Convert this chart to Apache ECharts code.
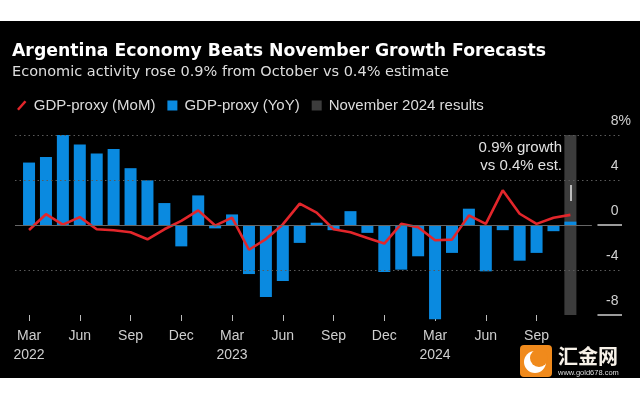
<!DOCTYPE html>
<html>
<head>
<meta charset="utf-8">
<script src="https://cdn.jsdelivr.net/npm/echarts@6/dist/echarts.min.js"></script>
<style>
html,body{margin:0;padding:0;background:#fff;}
#chart{width:640px;height:400px;background:linear-gradient(to bottom,#fff 0,#fff 21px,#000 21px,#000 378px,#fff 378px,#fff 400px);}
</style>
</head>
<body>
<div id="chart"></div>
<script>
// Months from Mar 2022 (index 0) to Nov 2024 (index 32)
const months = ['Mar 2022','Apr 2022','May 2022','Jun 2022','Jul 2022','Aug 2022','Sep 2022','Oct 2022','Nov 2022','Dec 2022',
  'Jan 2023','Feb 2023','Mar 2023','Apr 2023','May 2023','Jun 2023','Jul 2023','Aug 2023','Sep 2023','Oct 2023','Nov 2023','Dec 2023',
  'Jan 2024','Feb 2024','Mar 2024','Apr 2024','May 2024','Jun 2024','Jul 2024','Aug 2024','Sep 2024','Oct 2024','Nov 2024'];
const yoyValues = [5.55, 6.05, 8.0, 7.15, 6.35, 6.75, 5.05, 3.97, 1.95, -1.9,
  2.63, -0.3, 0.94, -4.36, -6.4, -4.98, -1.59, 0.2, -0.46, 1.23, -0.7, -4.18,
  -3.97, -2.78, -8.38, -2.48, 1.45, -4.12, -0.46, -3.17, -2.48, -0.55, 0.3];
const momValues = [-0.45, 0.96, 0.03, 0.7, -0.38, -0.47, -0.65, -1.27, -0.38, 0.36,
  1.3, -0.05, 0.65, -2.2, -1.25, 0.05, 1.9, 1.1, -0.38, -0.65, -1.15, -1.65,
  0.1, -0.2, -1.35, -1.3, 0.85, 0.1, 3.08, 1.0, 0.1, 0.65, 0.9];
const highlightMonth = 'Nov 2024';
const highlightRange = [8, -8];
const xTickIndices = [0, 3, 6, 9, 12, 15, 18, 21, 24, 27, 30];
const xTickLabels = ['Mar\n2022','Jun','Sep','Dec','Mar\n2023','Jun','Sep','Dec','Mar\n2024','Jun','Sep'];
const yTicks = [-8, -4, 0, 4, 8];
const gridValues = [8, 4, -4];
const legendNames = ['GDP-proxy (MoM)', 'GDP-proxy (YoY)', 'November 2024 results'];
const titleText = 'Argentina Economy Beats November Growth Forecasts';
const subtitleText = 'Economic activity rose 0.9% from October vs 0.4% estimate';
const annotationText = '0.9% growth\nvs 0.4% est.';

const hiIdx = months.indexOf(highlightMonth);
const FONT = '"Liberation Sans", Arial, sans-serif';
const HFONT = '"DejaVu Sans", sans-serif';
const xMin = -0.83, xMax = 35.05;

const chart = echarts.init(document.getElementById('chart'), null, {renderer: 'canvas'});
chart.setOption({
  backgroundColor: 'transparent',
  animation: false,
  textStyle: {fontFamily: FONT},
  grid: {left: 15, right: 18, top: 135, bottom: 85, containLabel: false},
  legend: {
    left: 12, top: 93, itemWidth: 10, itemHeight: 10, itemGap: 12,
    textStyle: {color: '#dcdcdc', fontSize: 15, fontFamily: FONT, padding: [0, 0, 0, 2]},
    data: [
      {name: legendNames[0], icon: 'path://M0,9 L8,0 L10,1.6 L2,10.6 Z', itemStyle: {color: '#e3262b'}},
      {name: legendNames[1], icon: 'rect', itemStyle: {color: '#0a8ae0'}},
      {name: legendNames[2], icon: 'rect', itemStyle: {color: '#3c3c3c'}}
    ]
  },
  xAxis: {
    type: 'value', min: xMin, max: xMax,
    splitLine: {show: false},
    axisLine: {show: false, onZero: false},
    axisTick: {show: true, customValues: xTickIndices, length: 6, lineStyle: {color: '#bbb', width: 1}},
    axisLabel: {
      show: true, customValues: xTickIndices, margin: 12,
      color: '#cfcfcf', fontSize: 14, lineHeight: 18.6, fontFamily: FONT,
      formatter: function (v) { const k = xTickIndices.indexOf(Math.round(v)); return k >= 0 ? xTickLabels[k] : ''; }
    }
  },
  yAxis: {
    type: 'value', position: 'right', min: -8, max: 8, interval: 4,
    splitLine: {show: false},
    axisLine: {show: false},
    axisTick: {show: false},
    axisLabel: {
      inside: true, margin: -9, align: 'right', verticalAlign: 'bottom',
      padding: [0, 0, 6, 0],
      formatter: function (v) { return v === 8 ? '{n|8%}' : '{n|' + v + '}{h|%}'; },
      rich: {
        n: {color: '#d0d0d0', fontSize: 14, lineHeight: 16, fontFamily: FONT},
        h: {color: 'rgba(0,0,0,0)', fontSize: 14, lineHeight: 16, fontFamily: FONT}
      }
    }
  },
  series: [
    {
      name: 'grid', type: 'line', data: [], z: 1, silent: true,
      markLine: {
        silent: true, symbol: 'none', label: {show: false},
        lineStyle: {color: '#5a5a5a', type: [1.5, 3], width: 1.2},
        data: gridValues.map(v => ({yAxis: v}))
      }
    },
    {
      name: legendNames[2], type: 'bar', barWidth: 12, barGap: '-100%', z: 2,
      itemStyle: {color: '#3c3c3c'},
      data: highlightRange.map(v => [hiIdx, v]),
      markLine: {
        silent: true, symbol: 'none', label: {show: false},
        data: [
          [{coord: [xMin, 0], lineStyle: {color: '#666', width: 1.2, type: 'solid'}}, {coord: [33.27, 0]}],
          [{coord: [33.6, 0], lineStyle: {color: '#cfcfcf', width: 1.5, type: 'solid'}}, {coord: [xMax, 0]}],
          [{coord: [33.6, -8], lineStyle: {color: '#cfcfcf', width: 1.5, type: 'solid'}}, {coord: [xMax, -8]}],
          [{coord: [hiIdx, 3.56], lineStyle: {color: '#e8e8e8', width: 1.5, type: 'solid'}}, {coord: [hiIdx, 2.13]}]
        ]
      }
    },
    {
      name: legendNames[1], type: 'bar', barWidth: 12, barGap: '-100%', z: 3, clip: false,
      itemStyle: {color: '#0a8ae0'},
      data: yoyValues.map((v, i) => [i, v])
    },
    {
      name: legendNames[0], type: 'line', z: 4, symbol: 'none', clip: false,
      lineStyle: {color: '#e3262b', width: 2.6},
      itemStyle: {color: '#e3262b'},
      data: momValues.map((v, i) => [i, v])
    }
  ],
  graphic: [
    {type: 'text', left: 12, top: 43, style: {text: titleText, fill: '#ffffff', font: 'bold 17.3px ' + HFONT}},
    {type: 'text', left: 12, top: 65, style: {text: subtitleText, fill: '#dedede', font: '14.5px ' + HFONT}},
    {type: 'text', x: 562, y: 139, style: {text: annotationText, fill: '#e2e2e2', font: '15px ' + FONT, align: 'right', verticalAlign: 'top', lineHeight: 18}},
    {type: 'group', left: 520, top: 345, children: [
      {type: 'rect', shape: {x: 0, y: 0, width: 32, height: 32, r: 4}, style: {fill: '#f08a1c'}},
      {type: 'circle', shape: {cx: 15, cy: 17, r: 11}, style: {fill: '#ffffff'}},
      {type: 'circle', shape: {cx: 19, cy: 13, r: 9}, style: {fill: '#f08a1c'}}
    ]},
    {type: 'text', left: 558, top: 346, style: {text: '汇金网', fill: '#f7f1e8', font: 'bold 20px "Noto Sans CJK SC", sans-serif'}},
    {type: 'text', left: 558, top: 369, style: {text: 'www.gold678.com', fill: '#dddddd', font: '7.5px ' + FONT}}
  ]
});
</script>
</body>
</html>
